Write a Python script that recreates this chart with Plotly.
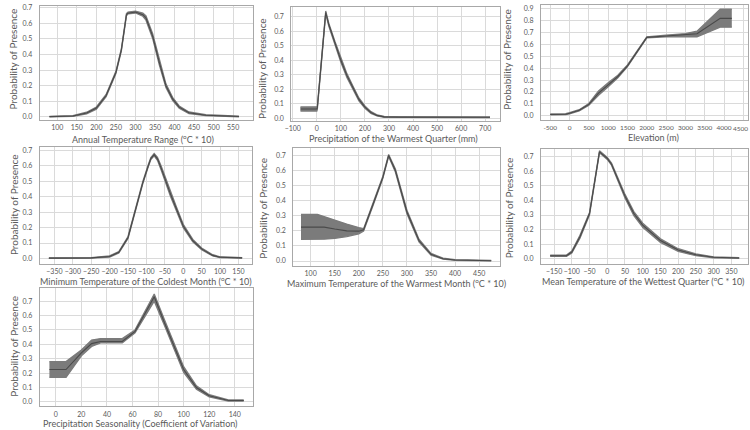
import plotly.graph_objects as go

# Annual Temperature Range (oC * 10)
temp_range_x = [80, 140, 175, 200, 225, 250, 264, 277, 281, 300, 319, 327, 344, 361, 378, 395, 412, 437, 480, 565]
temp_range_mean = [0.002, 0.006, 0.025, 0.057, 0.137, 0.285, 0.43, 0.655, 0.665, 0.672, 0.655, 0.634,
                   0.518, 0.349, 0.20, 0.116, 0.063, 0.027, 0.011, 0.003]
temp_range_lo = [0.0, 0.003, 0.02, 0.05, 0.13, 0.278, 0.423, 0.648, 0.66, 0.666, 0.645, 0.62,
                 0.503, 0.334, 0.188, 0.106, 0.056, 0.022, 0.008, 0.001]
temp_range_hi = [0.004, 0.009, 0.03, 0.064, 0.144, 0.292, 0.437, 0.662, 0.672, 0.678, 0.665, 0.648,
                 0.533, 0.364, 0.212, 0.126, 0.07, 0.032, 0.014, 0.005]
temp_range_ticks = [100, 150, 200, 250, 300, 350, 400, 450, 500, 550]

# Precipitation of the Warmest Quarter (mm)
prec_warm_x = [-68, 0, 2, 37, 50, 75, 100, 125, 150, 175, 200, 225, 250, 280, 350, 720]
prec_warm_mean = [0.064, 0.064, 0.07, 0.73, 0.645, 0.52, 0.40, 0.295, 0.21, 0.13, 0.077, 0.04, 0.02, 0.01, 0.008, 0.007]
prec_warm_lo = [0.05, 0.05, 0.06, 0.72, 0.635, 0.508, 0.387, 0.282, 0.198, 0.12, 0.069, 0.034, 0.016, 0.007, 0.006, 0.005]
prec_warm_hi = [0.078, 0.078, 0.08, 0.74, 0.655, 0.532, 0.413, 0.308, 0.222, 0.14, 0.085, 0.046, 0.024, 0.013, 0.01, 0.009]
prec_warm_ticks = [-100, 0, 100, 200, 300, 400, 500, 600, 700]

# Elevation (m)
elev_x = [-500, -100, 0, 250, 500, 750, 1000, 1250, 1500, 1750, 2000, 2500, 3000, 3300, 3900, 4200]
elev_mean = [0.01, 0.012, 0.02, 0.045, 0.095, 0.19, 0.26, 0.33, 0.42, 0.54, 0.66, 0.672, 0.68, 0.69, 0.82, 0.82]
elev_lo = [0.006, 0.008, 0.015, 0.04, 0.087, 0.172, 0.243, 0.32, 0.413, 0.533, 0.655, 0.665, 0.668, 0.665, 0.746, 0.746]
elev_hi = [0.014, 0.016, 0.025, 0.05, 0.103, 0.208, 0.277, 0.34, 0.427, 0.547, 0.665, 0.678, 0.692, 0.712, 0.897, 0.897]
elev_ticks = [-500, 0, 500, 1000, 1500, 2000, 2500, 3000, 3500, 4000]
elev_last_tick = 4500

# Minimum Temperature of the Coldest Month (oC * 10)
tmin_x = [-365, -250, -200, -175, -150, -129, -110, -95, -88, -79, -70, -60, -49, -35, -20, 0, 26, 50, 80, 100, 160]
tmin_mean = [0.002, 0.004, 0.013, 0.04, 0.136, 0.33, 0.49, 0.60, 0.647, 0.672, 0.645, 0.585, 0.51, 0.42,
             0.33, 0.21, 0.115, 0.062, 0.02, 0.008, 0.004]
tmin_lo = [0.0, 0.002, 0.009, 0.035, 0.13, 0.323, 0.483, 0.593, 0.64, 0.665, 0.635, 0.572, 0.495, 0.405,
           0.317, 0.199, 0.107, 0.056, 0.016, 0.005, 0.002]
tmin_hi = [0.004, 0.006, 0.017, 0.045, 0.142, 0.337, 0.497, 0.607, 0.654, 0.679, 0.655, 0.598, 0.525, 0.435,
           0.343, 0.221, 0.123, 0.068, 0.024, 0.011, 0.006]
tmin_ticks = [-350, -300, -250, -200, -150, -100, -50, 0, 50, 100, 150]

# Maximum Temperature of the Warmest Month (oC * 10)
tmax_x = [80, 114, 128, 150, 175, 200, 210, 230, 250, 262, 276, 300, 325, 350, 375, 400, 475]
tmax_mean = [0.225, 0.225, 0.225, 0.212, 0.200, 0.198, 0.207, 0.38, 0.555, 0.70, 0.60, 0.325, 0.136,
             0.044, 0.015, 0.007, 0.002]
tmax_lo = [0.143, 0.143, 0.145, 0.15, 0.162, 0.18, 0.199, 0.372, 0.548, 0.693, 0.59, 0.313, 0.127,
           0.038, 0.012, 0.005, 0.001]
tmax_hi = [0.31, 0.31, 0.295, 0.27, 0.245, 0.222, 0.215, 0.388, 0.562, 0.707, 0.61, 0.337, 0.145,
           0.05, 0.019, 0.009, 0.004]
tmax_ticks = [100, 150, 200, 250, 300, 350, 400, 450]

# Mean Temperature of the Wettest Quarter (oC * 10)
twet_x = [-161, -115, -100, -77, -50, -36, -22, 0, 12, 50, 75, 100, 150, 200, 250, 300, 372]
twet_mean = [0.02, 0.02, 0.045, 0.15, 0.31, 0.52, 0.735, 0.69, 0.65, 0.43, 0.31, 0.23, 0.124, 0.059,
             0.026, 0.009, 0.004]
twet_lo = [0.016, 0.016, 0.038, 0.14, 0.302, 0.513, 0.728, 0.683, 0.643, 0.418, 0.296, 0.216, 0.112,
           0.05, 0.02, 0.006, 0.002]
twet_hi = [0.024, 0.024, 0.052, 0.16, 0.318, 0.527, 0.742, 0.697, 0.657, 0.442, 0.324, 0.244, 0.136,
           0.068, 0.032, 0.012, 0.006]
twet_ticks = [-150, -100, -50, 0, 50, 100, 150, 200, 250, 300, 350]

# Precipitation Seasonality (Coefficient of Variation)
pseas_x = [-5, 8, 20, 28, 35, 52, 62, 77, 85, 90, 95, 100, 110, 120, 135, 147]
pseas_mean = [0.225, 0.225, 0.34, 0.405, 0.42, 0.42, 0.49, 0.73, 0.55, 0.445, 0.335, 0.225, 0.10, 0.043, 0.01, 0.01]
pseas_lo = [0.17, 0.17, 0.32, 0.385, 0.41, 0.41, 0.48, 0.70, 0.53, 0.425, 0.315, 0.205, 0.088, 0.035, 0.006, 0.006]
pseas_hi = [0.28, 0.28, 0.36, 0.43, 0.44, 0.44, 0.50, 0.75, 0.57, 0.465, 0.355, 0.245, 0.112, 0.05, 0.014, 0.014]
pseas_ticks = [0, 20, 40, 60, 80, 100, 120, 140]

W, H = 750, 430
FONT = "Lato"
TXT = "#5a5a5a"

panels = [
    dict(x=temp_range_x, m=temp_range_mean, lo=temp_range_lo, hi=temp_range_hi, ticks=temp_range_ticks,
         title="Annual Temperature Range (<sup>o</sup>C * 10)",
         box=(33, 248, 3, 118), xr=[55, 600], yr=[-0.019, 0.711], ytop=0.7, tpos=(137, 137), ypos=(7, 56)),
    dict(x=prec_warm_x, m=prec_warm_mean, lo=prec_warm_lo, hi=prec_warm_hi, ticks=prec_warm_ticks,
         title="Precipitation of the Warmest Quarter (mm)",
         box=(287, 498, 4, 119), xr=[-106, 763], yr=[-0.018, 0.768], ytop=0.7, tpos=(390, 137), ypos=(258, 66)),
    dict(x=elev_x, m=elev_mean, lo=elev_lo, hi=elev_hi, ticks=elev_ticks,
         title="Elevation (m)",
         box=(539, 748, 2, 118), xr=[-740, 4620], yr=[-0.036, 0.933], ytop=0.9, tpos=(653, 136), ypos=(505, 57)),
    dict(x=tmin_x, m=tmin_mean, lo=tmin_lo, hi=tmin_hi, ticks=tmin_ticks,
         title="Minimum Temperature of the Coldest Month (<sup>o</sup>C * 10)",
         box=(33, 247, 145, 263), xr=[-390, 186], yr=[-0.033, 0.724], ytop=0.7, tpos=(140, 281), ypos=(7, 203)),
    dict(x=tmax_x, m=tmax_mean, lo=tmax_lo, hi=tmax_hi, ticks=tmax_ticks,
         title="Maximum Temperature of the Warmest Month (<sup>o</sup>C * 10)",
         box=(289, 498, 146, 265), xr=[64, 494], yr=[-0.03, 0.752], ytop=0.7, tpos=(393, 283), ypos=(258, 207)),
    dict(x=twet_x, m=twet_mean, lo=twet_lo, hi=twet_hi, ticks=twet_ticks,
         title="Mean Temperature of the Wettest Quarter (<sup>o</sup>C * 10)",
         box=(539, 748, 147, 263), xr=[-187, 397], yr=[-0.034, 0.757], ytop=0.7, tpos=(643, 281), ypos=(507, 207)),
    dict(x=pseas_x, m=pseas_mean, lo=pseas_lo, hi=pseas_hi, ticks=pseas_ticks,
         title="Precipitation Seasonality (Coefficient of Variation)",
         box=(33, 248, 288, 407), xr=[-12.6, 154], yr=[-0.03, 0.789], ytop=0.7, tpos=(135, 424), ypos=(7, 346)),
]

fig = go.Figure()
annotations = []
layout = {}

for i, p in enumerate(panels, start=1):
    sfx = "" if i == 1 else str(i)
    xa, ya = "x" + sfx, "y" + sfx
    x0, x1, y0, y1 = p["box"]

    # confidence band
    fig.add_trace(go.Scatter(x=p["x"], y=p["hi"], mode="lines", xaxis=xa, yaxis=ya,
                             line=dict(color="#7b7b7b", width=1.3), hoverinfo="skip"))
    fig.add_trace(go.Scatter(x=p["x"], y=p["lo"], mode="lines", xaxis=xa, yaxis=ya, fill="tonexty",
                             fillcolor="#7b7b7b", line=dict(color="#7b7b7b", width=1.3), hoverinfo="skip"))
    # mean response
    fig.add_trace(go.Scatter(x=p["x"], y=p["m"], mode="lines", xaxis=xa, yaxis=ya,
                             line=dict(color="#4a4a4a", width=1.1)))

    common = dict(showgrid=True, gridcolor="#dadada", gridwidth=1, zeroline=False,
                  showline=True, linecolor="#a8a8a8", linewidth=1, mirror=True, tickangle=0,
                  ticks="", tickfont=dict(family=FONT, size=7, color=TXT))
    layout["xaxis" + sfx] = dict(common, domain=[x0 / W, x1 / W], range=p["xr"], anchor=ya,
                                 tickvals=p["ticks"], ticklabelstandoff=1)
    yt = [round(k * 0.1, 1) for k in range(int(round(p["ytop"] * 10)) + 1)]
    layout["yaxis" + sfx] = dict(common, domain=[1 - y1 / H, 1 - y0 / H], range=p["yr"], anchor=xa,
                                 tickvals=yt, tickformat=".1f", ticklabelstandoff=5)

    annotations.append(dict(text=p["title"], x=p["tpos"][0] / W, y=1 - p["tpos"][1] / H,
                            xref="paper", yref="paper", showarrow=False, xanchor="center", yanchor="middle",
                            font=dict(family=FONT, size=9, color=TXT)))
    annotations.append(dict(text="Probability of Presence", x=p["ypos"][0] / W, y=1 - p["ypos"][1] / H,
                            xref="paper", yref="paper", showarrow=False, textangle=-90,
                            xanchor="center", yanchor="middle",
                            font=dict(family=FONT, size=10, color=TXT)))

# the last elevation tick sits at the page edge; its label is pulled inside it
annotations.append(dict(text=str(elev_last_tick), x=1.0, y=1 - 127 / H, xref="paper", yref="paper",
                        showarrow=False, xanchor="right", yanchor="middle",
                        font=dict(family=FONT, size=6.5, color=TXT)))
layout["xaxis3"]["tickvals"] = elev_ticks + [elev_last_tick]
layout["xaxis3"]["ticktext"] = [str(v) for v in elev_ticks] + [""]
layout["xaxis3"]["tickfont"] = dict(family=FONT, size=6.5, color=TXT)

fig.update_layout(
    width=W, height=H,
    margin=dict(l=0, r=0, t=0, b=0),
    paper_bgcolor="white", plot_bgcolor="white",
    showlegend=False,
    annotations=annotations,
    **layout,
)

# page margin off so the figure sits at the window's top-left corner
fig.write_html("out.html", config={"displayModeBar": False},
               post_script="document.body.style.margin='0';")
